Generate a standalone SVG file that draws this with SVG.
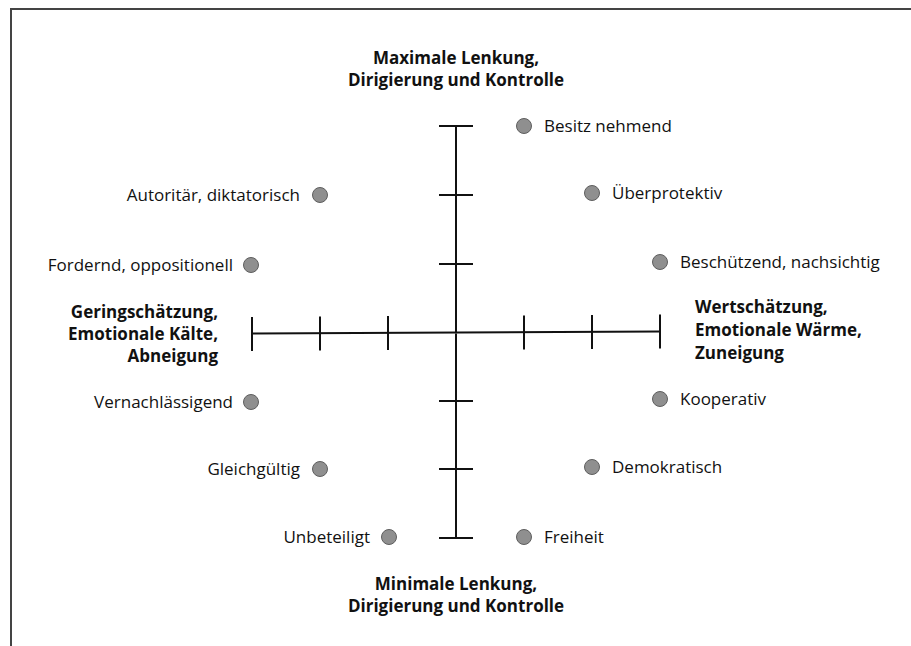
<svg xmlns="http://www.w3.org/2000/svg" width="911" height="646" viewBox="0 0 911 646">
<style>
.ax{stroke:#111;stroke-width:2;fill:none}
.fr{stroke:#444;stroke-width:2;fill:none}
.dot{fill:#8f8f8f;stroke:#5e5e5e;stroke-width:1}
.lbl{font-family:"Open Sans","Noto Sans",sans-serif;font-size:17px;fill:#111}
.ttl{font-family:"Open Sans","Noto Sans",sans-serif;font-size:17px;font-weight:bold;fill:#111}
.r{text-anchor:end}
.m{text-anchor:middle}
</style>
<rect width="911" height="646" fill="#fff"/>
<path class="fr" d="M11,646 V9 H911"/>
<g id="connectors">
<path class="ax" d="M456,126 V538 M252,333.5 L660,331.5"/>
<path class="ax" d="M439,126 H473 M439,195 H473 M439,264 H473 M439,401 H473 M439,469 H473 M439,538 H473"/>
<path class="ax" d="M252,317 V351 M320,316.5 V350.5 M388,316 V350 M524,315.5 V349.5 M592,315 V349 M660,314.5 V348.5"/>
</g>
<g id="title-top"><text class="ttl m" x="456" y="64">Maximale Lenkung,</text><text class="ttl m" x="456" y="86">Dirigierung und Kontrolle</text></g>
<g id="title-bottom"><text class="ttl m" x="456" y="590">Minimale Lenkung,</text><text class="ttl m" x="456" y="612">Dirigierung und Kontrolle</text></g>
<g id="title-left"><text class="ttl r" x="218" y="318">Geringschätzung,</text><text class="ttl r" x="218" y="340">Emotionale Kälte,</text><text class="ttl r" x="218" y="362">Abneigung</text></g>
<g id="title-right"><text class="ttl" x="695" y="313">Wertschätzung,</text><text class="ttl" x="695" y="336">Emotionale Wärme,</text><text class="ttl" x="695" y="359">Zuneigung</text></g>
<g id="besitz"><circle class="dot" cx="524" cy="126" r="7.5"/><text class="lbl" x="544" y="132">Besitz nehmend</text></g>
<g id="ueberprotektiv"><circle class="dot" cx="592" cy="193" r="7.5"/><text class="lbl" x="612" y="199">Überprotektiv</text></g>
<g id="beschuetzend"><circle class="dot" cx="660" cy="262" r="7.5"/><text class="lbl" x="680" y="268">Beschützend, nachsichtig</text></g>
<g id="kooperativ"><circle class="dot" cx="660" cy="399" r="7.5"/><text class="lbl" x="680" y="405">Kooperativ</text></g>
<g id="demokratisch"><circle class="dot" cx="592" cy="467" r="7.5"/><text class="lbl" x="612" y="473">Demokratisch</text></g>
<g id="freiheit"><circle class="dot" cx="524" cy="537" r="7.5"/><text class="lbl" x="544" y="543">Freiheit</text></g>
<g id="autoritaer"><circle class="dot" cx="320" cy="195" r="7.5"/><text class="lbl r" x="300" y="201">Autoritär, diktatorisch</text></g>
<g id="fordernd"><circle class="dot" cx="251" cy="265" r="7.5"/><text class="lbl r" x="233" y="271">Fordernd, oppositionell</text></g>
<g id="vernachlaessigend"><circle class="dot" cx="251" cy="402" r="7.5"/><text class="lbl r" x="233" y="408">Vernachlässigend</text></g>
<g id="gleichgueltig"><circle class="dot" cx="320" cy="469" r="7.5"/><text class="lbl r" x="300" y="475">Gleichgültig</text></g>
<g id="unbeteiligt"><circle class="dot" cx="389" cy="537" r="7.5"/><text class="lbl r" x="370" y="543">Unbeteiligt</text></g>
</svg>
